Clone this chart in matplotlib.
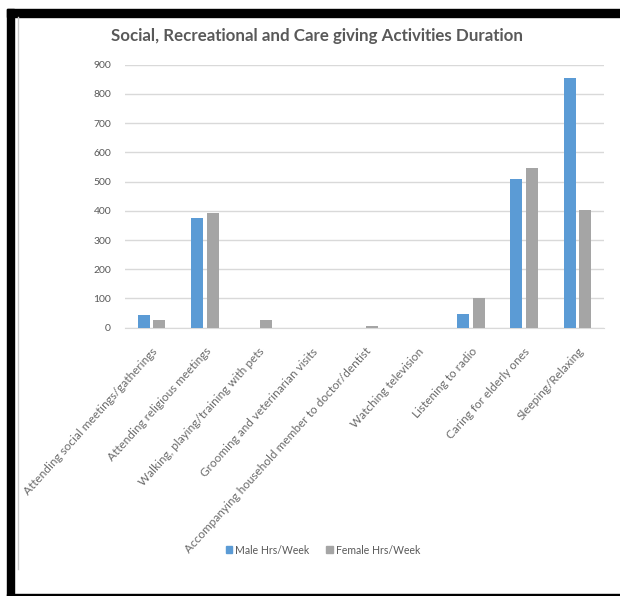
import numpy as np
import matplotlib.pyplot as plt
from matplotlib.lines import Line2D
from matplotlib.patches import Rectangle, Patch

# Aktivitäten und Wochenstunden
activities = [
    "Attending social meetings/gatherings",
    "Attending religious meetings",
    "Walking, playing/training with pets",
    "Grooming and veterinarian visits",
    "Accompanying household member to doctor/dentist",
    "Watching television",
    "Listening to radio",
    "Caring for elderly ones",
    "Sleeping/Relaxing",
]
male_hrs = [43, 376, 0, 0, 0, 0, 47, 509, 854]
female_hrs = [26, 393, 27, 0, 7, 0, 102, 547, 403]
y_ticks = [0, 100, 200, 300, 400, 500, 600, 700, 800, 900]

blue = "#5B9BD5"
grey = "#A5A5A5"
text_grey = "#595959"
grid_grey = "#D9D9D9"

plt.rcParams["font.family"] = ["Lato", "DejaVu Sans"]

W, H = 620, 596
fig = plt.figure(figsize=(W / 100, H / 100), dpi=100)
ax = fig.add_axes([125 / W, 1 - 327.7 / H, (604 - 125) / W, (327.7 - 64.7) / H])

x = np.arange(len(activities))
w = 0.225
ax.bar(x - 0.145, male_hrs, w, color=blue, zorder=3)
ax.bar(x + 0.145, female_hrs, w, color=grey, zorder=3)

ax.set_xlim(-0.5, len(activities) - 0.5)
ax.set_ylim(0, 900)
ax.set_yticks(y_ticks)
ax.set_yticklabels([str(v) for v in y_ticks], fontsize=7.5, color=text_grey)
ax.yaxis.grid(True, color=grid_grey, linewidth=1, zorder=0)
ax.set_xticks(x)
ax.set_xticklabels(activities, rotation=48, ha="right", rotation_mode="anchor",
                   fontsize=8.5, color="#6A6A6A")
ax.tick_params(length=0)
ax.tick_params(axis="y", pad=10)
ax.tick_params(axis="x", pad=13)
for s in ["top", "right", "left"]:
    ax.spines[s].set_visible(False)
ax.spines["bottom"].set_color(grid_grey)

fig.text(317 / W, 1 - 36 / H, "Social, Recreational and Care giving Activities Duration",
         ha="center", va="center", fontsize=12.2, fontweight="bold", color=text_grey)

# Legende unten
handles = [Patch(color=blue, label="Male Hrs/Week"),
           Patch(color=grey, label="Female Hrs/Week")]
fig.legend(handles=handles, loc="center", bbox_to_anchor=(323 / W, 1 - 550 / H),
           ncol=2, frameon=False, fontsize=7.6, handlelength=0.6, handleheight=0.6,
           columnspacing=1.6, handletextpad=0.3, labelcolor=text_grey)

# schwarzer Rahmen
fig.patches.append(Rectangle((7 / W, 1 - 17 / H), 1 - 7 / W, 8 / H,
                             transform=fig.transFigure, color="black"))
fig.patches.append(Rectangle((7 / W, 0), 7 / W, 1 - 9 / H,
                             transform=fig.transFigure, color="black"))
fig.patches.append(Rectangle((7 / W, 0), 1, 2 / H,
                             transform=fig.transFigure, color="black"))
fig.lines.append(Line2D([17.5 / W, 17.5 / W], [1 - 17 / H, 1 - 569 / H],
                        transform=fig.transFigure, color="#C8C8C8", linewidth=1))

fig.savefig("out.png", dpi=100)
